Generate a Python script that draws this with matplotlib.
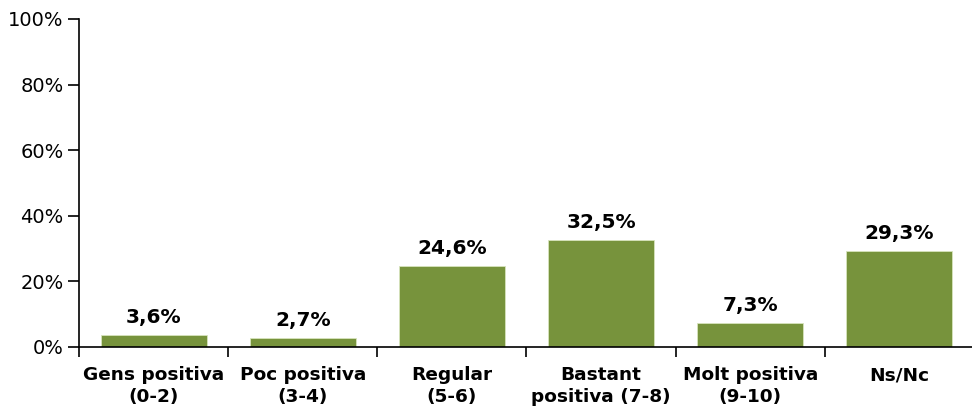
import matplotlib
matplotlib.use("Agg")
import matplotlib.pyplot as plt
from matplotlib.ticker import FuncFormatter, FixedLocator

categories = ["Gens positiva\n(0-2)", "Poc positiva\n(3-4)", "Regular\n(5-6)",
              "Bastant\npositiva (7-8)", "Molt positiva\n(9-10)", "Ns/Nc"]
values = [3.6, 2.7, 24.6, 32.5, 7.3, 29.3]
yticks = [0, 20, 40, 60, 80, 100]

plt.rcParams['font.family'] = ['DejaVu Sans']
fig = plt.figure(figsize=(9.72, 4.07), dpi=100)
ax = fig.add_axes([79/972, 1-347/407, 1-79/972+0.002, (347-19)/407])

x = list(range(len(categories)))
bars = ax.bar(x, values, width=0.71, color="#77933C", edgecolor="#D7E4BD", linewidth=0.6, zorder=2)
for xi, v in zip(x, values):
    ax.annotate(f"{v:.1f}".replace(".", ",") + "%", (xi, v), xytext=(0, 6),
                textcoords="offset points", ha="center", va="bottom",
                fontsize=14.5, fontweight="bold", color="#000000")

ax.set_xlim(-0.5, len(categories) - 0.5)
ax.set_ylim(0, 100)
ax.set_yticks(yticks)
ax.yaxis.set_major_formatter(FuncFormatter(lambda v, p: f"{int(v)}%"))
ax.tick_params(axis="y", labelsize=14, length=8, width=1.2, direction="out", pad=3, colors="#000000")
ax.set_xticks(x)
ax.set_xticklabels(categories, fontsize=13.3, fontweight="bold", linespacing=1.25)
ax.tick_params(axis="x", length=0, pad=14)
ax.xaxis.set_minor_locator(FixedLocator([i - 0.5 for i in range(len(categories) + 1)]))
ax.tick_params(axis="x", which="minor", length=7, width=1.2, direction="out")

for s in ["top", "right"]:
    ax.spines[s].set_visible(False)
for s in ["left", "bottom"]:
    ax.spines[s].set_linewidth(1.2)
    ax.spines[s].set_color("#000000")

fig.savefig("out.png", dpi=100)
